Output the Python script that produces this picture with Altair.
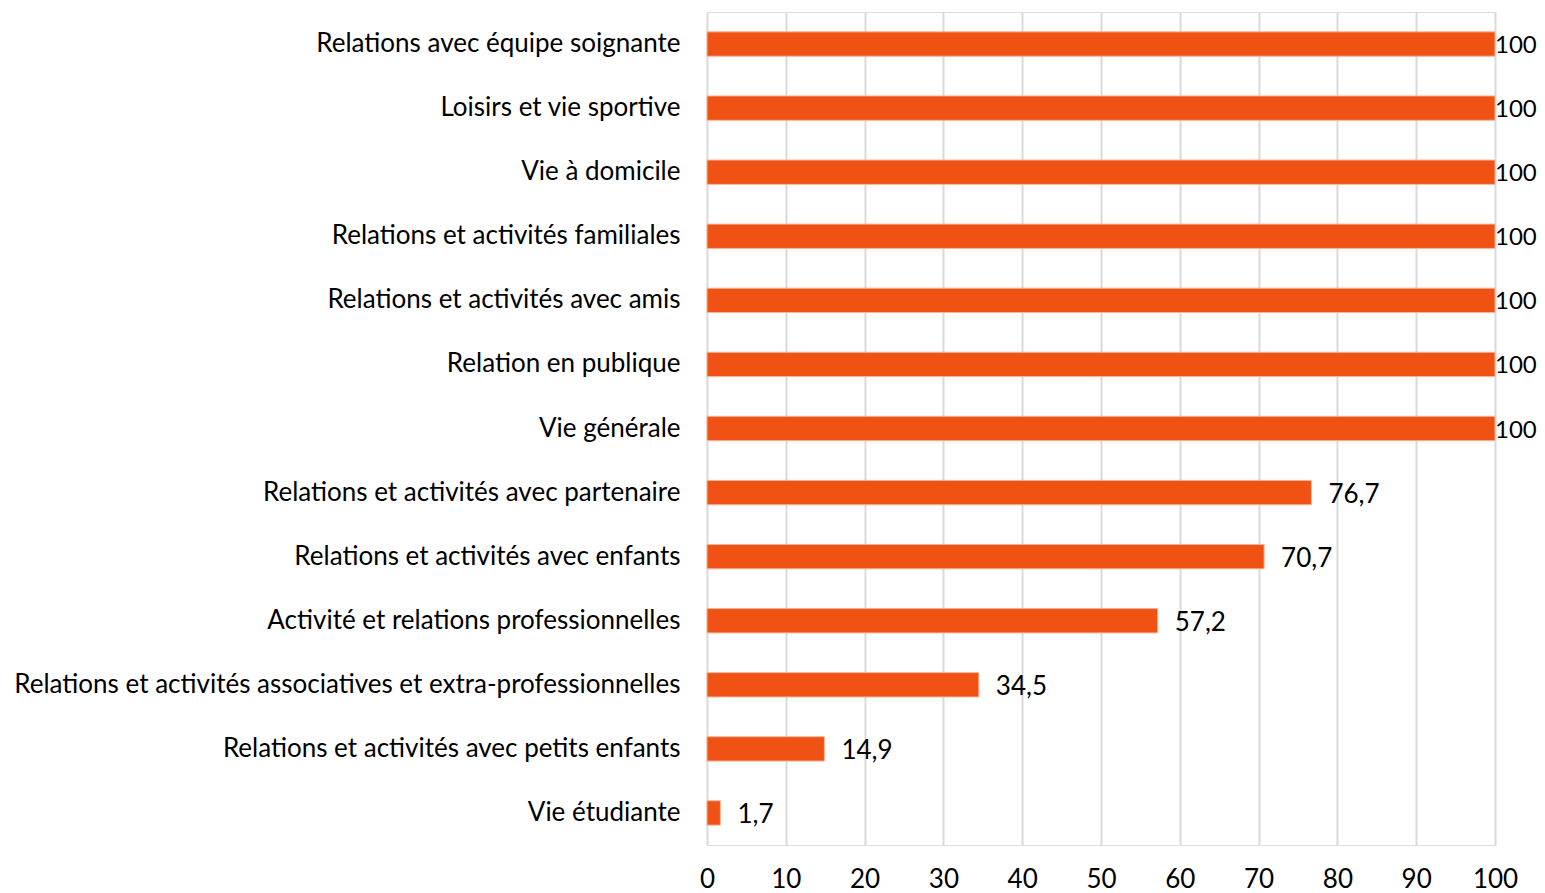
import altair as alt
import pandas as pd

categories = [
    "Relations avec équipe soignante",
    "Loisirs et vie sportive",
    "Vie à domicile",
    "Relations et activités familiales",
    "Relations et activités avec amis",
    "Relation en publique",
    "Vie générale",
    "Relations et  activités avec partenaire",
    "Relations et activités avec enfants",
    "Activité et relations professionnelles",
    "Relations et activités associatives et extra-professionnelles",
    "Relations et activités avec petits enfants",
    "Vie étudiante",
]
values = [100, 100, 100, 100, 100, 100, 100, 76.7, 70.7, 57.2, 34.5, 14.9, 1.7]
labels = [str(v).replace(".", ",") for v in values]

df = pd.DataFrame({"cat": categories, "v": values, "lab": labels})

FONT = "Lato"
FS = 26

y = alt.Y("cat:N", sort=None, title=None,
          scale=alt.Scale(paddingInner=0.62, paddingOuter=0.31),
          axis=alt.Axis(domain=False, ticks=False, labelPadding=27, labelFontSize=FS,
                        labelFont=FONT, labelColor="#000000", labelLimit=800, grid=False))
x = alt.X("v:Q", title=None,
          scale=alt.Scale(domain=[0, 100], nice=False),
          axis=alt.Axis(values=list(range(0, 101, 10)), domain=False, ticks=False,
                        labelPadding=21, labelFontSize=FS, labelFont=FONT, labelColor="#000000",
                        grid=True, gridColor="#d9d9d9", gridWidth=2, labelFlush=False))

base = alt.Chart(df)
bars = base.mark_bar(color="#f05214", stroke="#f7b59a", strokeWidth=1).encode(x=x, y=y)
txt_lo = base.transform_filter("datum.v < 100").mark_text(
    align="left", baseline="middle", dx=17, dy=2, font=FONT, fontSize=FS, color="#000000"
).encode(x="v:Q", y=alt.Y("cat:N", sort=None), text="lab:N")
txt_hi = base.transform_filter("datum.v >= 100").mark_text(
    align="left", baseline="middle", dx=0, dy=2, font=FONT, fontSize=24, color="#000000"
).encode(x="v:Q", y=alt.Y("cat:N", sort=None), text="lab:N")

chart = alt.layer(bars, txt_lo, txt_hi).properties(
    width=788, height=833,
    autosize=alt.AutoSizeParams(type="none"),
    padding={"left": 699, "top": 4, "right": 42, "bottom": 48},
).configure_view(stroke=None).configure(background="white")

chart.save("out.html", embed_options={"renderer": "svg", "actions": False})
